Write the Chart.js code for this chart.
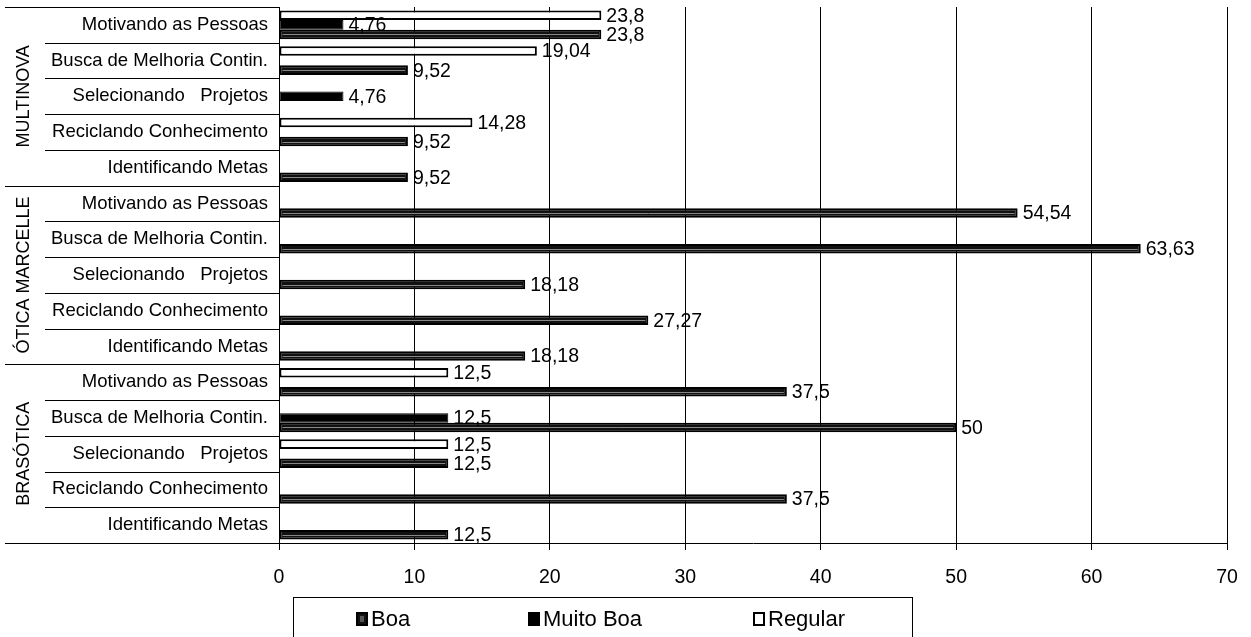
<!DOCTYPE html>
<html lang="pt">
<head>
<meta charset="UTF-8">
<title>Avaliação por empresa</title>
<script src="https://cdn.jsdelivr.net/npm/chart.js"></script>
<style>
  body { margin: 0; background: #fff; font-family: "Liberation Sans", Arial, sans-serif; }
  #wrap { position: relative; width: 1251px; height: 637px; }
  #legenda {
    position: absolute; left: 293px; top: 597px; width: 620px; height: 50px;
    border: 1px solid #000; box-sizing: border-box;
  }
  .item { position: absolute; top: 10px; font-size: 22px; line-height: 22px; display: flex; align-items: center; }
  .cx { width: 12px; height: 14px; border: 2px solid #000; margin-right: 3px; box-sizing: border-box; }
</style>
</head>
<body>
<div id="wrap">
  <canvas id="grafico" width="1251" height="637"></canvas>
  <div id="legenda"></div>
</div>
<script>
  // dados
  const empresas = ['MULTINOVA', 'ÓTICA MARCELLE', 'BRASÓTICA'];
  const itens = ['Motivando as Pessoas', 'Busca de Melhoria Contin.', 'Selecionando   Projetos',
                 'Reciclando Conhecimento', 'Identificando Metas'];
  const categorias = empresas.flatMap(() => itens);
  const series = ['Boa', 'Muito Boa', 'Regular'];
  const boa      = [23.8, 9.52, null, 9.52, 9.52,  54.54, 63.63, 18.18, 27.27, 18.18,  37.5, 50, 12.5, 37.5, 12.5];
  const muitoBoa = [4.76, null, 4.76, null, null,  null, null, null, null, null,  null, 12.5, null, null, null];
  const regular  = [23.8, 19.04, null, 14.28, null,  null, null, null, null, null,  12.5, null, 12.5, null, null];
  const ticksX = [0, 10, 20, 30, 40, 50, 60, 70];

  const fonte = '"Liberation Sans", Arial, sans-serif';

  const estilos = {
    'Boa':       { fundo: '#111', borda: '#000', largura: 2 },
    'Muito Boa': { fundo: '#000', borda: '#000', largura: 1 },
    'Regular':   { fundo: '#fff', borda: '#000', largura: 2 }
  };
  const valores = { 'Boa': boa, 'Muito Boa': muitoBoa, 'Regular': regular };

  // Regular fica em cima, Boa embaixo (como no Excel)
  const datasets = ['Regular', 'Muito Boa', 'Boa'].map(nome => ({
    label: nome,
    data: valores[nome],
    backgroundColor: estilos[nome].fundo,
    borderColor: estilos[nome].borda,
    borderWidth: estilos[nome].largura,
    borderSkipped: false,
    categoryPercentage: 0.8,
    barPercentage: 1.0
  }));

  // linhas dos grupos, nomes das empresas e rótulos de valor
  const extras = {
    id: 'extras',
    afterDatasetsDraw(chart) {
      const ctx = chart.ctx;
      ctx.save();
      // risco claro da hachura nas barras "Boa"
      const iBoa = chart.data.datasets.findIndex(d => d.label === 'Boa');
      ctx.strokeStyle = '#888';
      ctx.lineWidth = 1;
      chart.getDatasetMeta(iBoa).data.forEach((bar, j) => {
        if (chart.data.datasets[iBoa].data[j] == null) return;
        const yy = Math.round(bar.y) + 0.5;
        ctx.beginPath();
        ctx.moveTo(bar.base + 3, yy);
        ctx.lineTo(bar.x - 3, yy);
        ctx.stroke();
      });
      ctx.font = '19.5px ' + fonte;
      ctx.fillStyle = '#000';
      ctx.textBaseline = 'middle';
      chart.data.datasets.forEach((ds, i) => {
        chart.getDatasetMeta(i).data.forEach((bar, j) => {
          const v = ds.data[j];
          if (v == null) return;
          ctx.fillText(String(v).replace('.', ','), bar.x + 5, bar.y + 1);
        });
      });
      ctx.restore();
    },
    afterDraw(chart) {
      const { ctx, chartArea, scales: { y } } = chart;
      const n = categorias.length;
      ctx.save();
      ctx.strokeStyle = '#000';
      ctx.lineWidth = 1;
      for (let i = 0; i <= n; i++) {
        let yy;
        if (i === 0) yy = chartArea.top;
        else if (i === n) yy = chartArea.bottom;
        else yy = (y.getPixelForTick(i - 1) + y.getPixelForTick(i)) / 2;
        yy = Math.round(yy) + 0.5;
        const x0 = (i % itens.length === 0) ? 5 : 45;
        ctx.beginPath();
        ctx.moveTo(x0, yy);
        ctx.lineTo(chartArea.left, yy);
        ctx.stroke();
      }
      ctx.font = '18px ' + fonte;
      ctx.fillStyle = '#000';
      ctx.textAlign = 'center';
      ctx.textBaseline = 'middle';
      empresas.forEach((nome, g) => {
        const a = y.getPixelForTick(g * itens.length);
        const b = y.getPixelForTick(g * itens.length + itens.length - 1);
        ctx.save();
        ctx.translate(24, (a + b) / 2);
        ctx.rotate(-Math.PI / 2);
        ctx.fillText(nome, 0, 0);
        ctx.restore();
      });
      ctx.restore();
    }
  };

  new Chart(document.getElementById('grafico'), {
    type: 'bar',
    data: { labels: categorias, datasets: datasets },
    options: {
      indexAxis: 'y',
      responsive: false,
      animation: false,
      layout: { padding: { top: 7, right: 24, left: 0, bottom: 0 } },
      plugins: { legend: { display: false }, tooltip: { enabled: false } },
      scales: {
        x: {
          min: ticksX[0],
          max: ticksX[ticksX.length - 1],
          afterBuildTicks: (s) => { s.ticks = ticksX.map(v => ({ value: v })); },
          afterFit: (s) => { s.height = 94; s.paddingLeft = 0; s.paddingRight = 0; },
          grid: { color: '#000', lineWidth: 1, tickLength: 7, drawTicks: true },
          border: { display: true, color: '#000', width: 1 },
          ticks: { color: '#000', font: { family: fonte, size: 19.5 }, padding: 16, maxRotation: 0 }
        },
        y: {
          afterFit: (s) => { s.width = 279; s.paddingTop = 0; s.paddingBottom = 0; },
          grid: { display: false },
          border: { display: true, color: '#000', width: 1 },
          ticks: { color: '#000', font: { family: fonte, size: 18.5 }, padding: 3, autoSkip: false }
        }
      }
    },
    plugins: [extras]
  });

  // legenda (ordem Boa, Muito Boa, Regular)
  const legenda = document.getElementById('legenda');
  const posicoes = [62, 234, 459];
  series.forEach((nome, i) => {
    const item = document.createElement('div');
    item.className = 'item';
    item.style.left = posicoes[i] + 'px';
    const cx = document.createElement('span');
    cx.className = 'cx';
    cx.style.background = nome === 'Boa' ? '#555' : estilos[nome].fundo;
    if (nome === 'Boa') cx.style.boxShadow = 'inset 0 0 0 2px #111';
    item.appendChild(cx);
    item.appendChild(document.createTextNode(nome));
    legenda.appendChild(item);
  });
</script>
</body>
</html>
